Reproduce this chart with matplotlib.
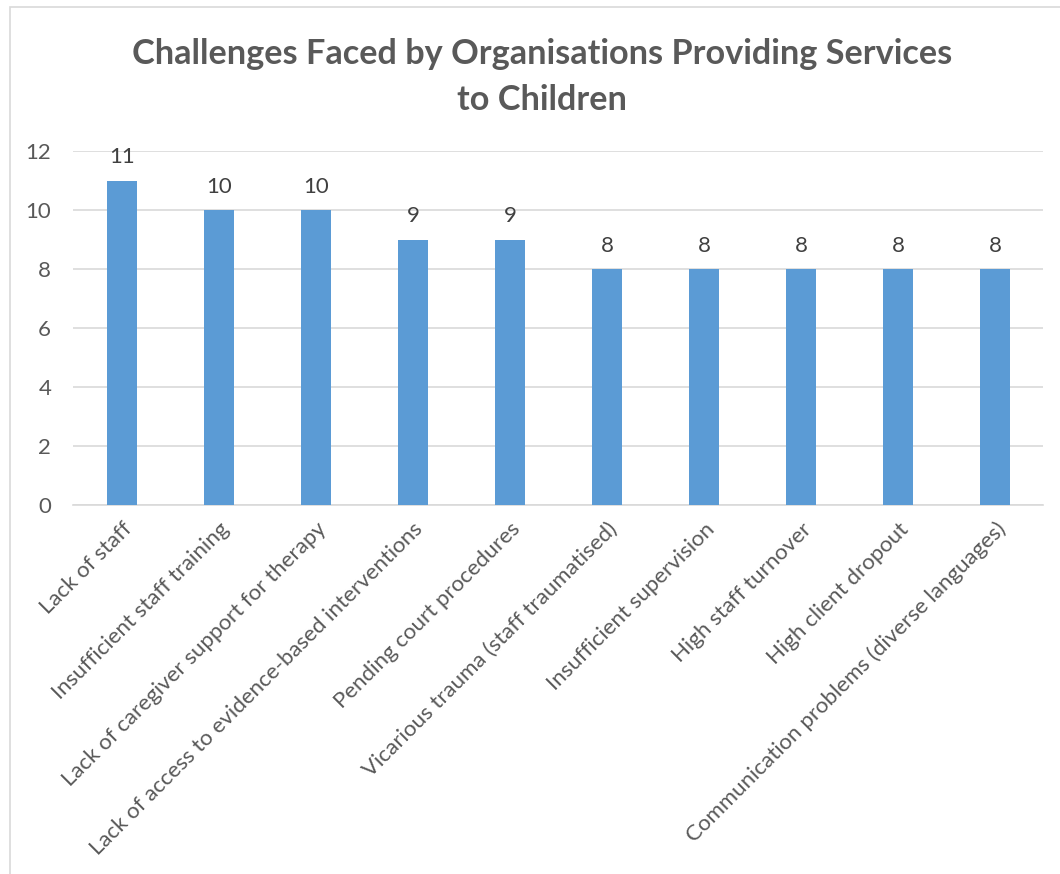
import matplotlib.pyplot as plt
from matplotlib.patches import Rectangle

categories = [
    'Lack of staff',
    'Insufficient staff training',
    'Lack of caregiver support for therapy',
    'Lack of access to evidence-based interventions',
    'Pending court procedures',
    'Vicarious trauma (staff traumatised)',
    'Insufficient supervision',
    'High staff turnover',
    'High client dropout',
    'Communication problems (diverse languages)',
]
counts = [11, 10, 10, 9, 9, 8, 8, 8, 8, 8]
yticks = [0, 2, 4, 6, 8, 10, 12]

plt.rcParams['font.family'] = ['Lato', 'DejaVu Sans']
grey = '#595959'

fig = plt.figure(figsize=(10.6, 8.74), dpi=100)
ax = fig.add_axes([0.0693, 0.4222, 0.9151, 0.405])

# outer chart border (partly cropped in the original)
fig.patches.append(Rectangle((10 / 1060, -0.1), 1.2, 1.1 - 7 / 874,
                             transform=fig.transFigure, fill=False,
                             edgecolor='#d9d9d9', linewidth=1.2))

x = range(len(categories))
bars = ax.bar(x, counts, width=0.31, color='#5b9bd5', zorder=3)
for b, v in zip(bars, counts):
    ax.text(b.get_x() + b.get_width() / 2, v + 0.45, str(v), ha='center',
            va='bottom', fontsize=16, color='#404040')

ax.set_xlim(-0.5, len(categories) - 0.5)
ax.set_ylim(0, 12)
ax.set_yticks(yticks)
ax.set_yticklabels([str(t) for t in yticks], fontsize=16, color=grey)
ax.set_xticks(list(x))
ax.set_xticklabels(categories, rotation=45, ha='right', rotation_mode='anchor',
                   fontsize=16, color=grey)
ax.tick_params(axis='y', length=0, pad=16)
ax.tick_params(axis='x', length=0, pad=10)
ax.grid(axis='y', color='#d9d9d9', linewidth=1.2, zorder=0)
for s in ['top', 'right', 'left']:
    ax.spines[s].set_visible(False)
ax.spines['bottom'].set_color('#d9d9d9')
ax.spines['bottom'].set_linewidth(1.2)

fig.text(0.511, 0.912, 'Challenges Faced by Organisations Providing Services\nto Children',
         ha='center', va='center', fontsize=24.7, fontweight='bold', color=grey,
         linespacing=1.55)

fig.savefig('out.png', dpi=100)
